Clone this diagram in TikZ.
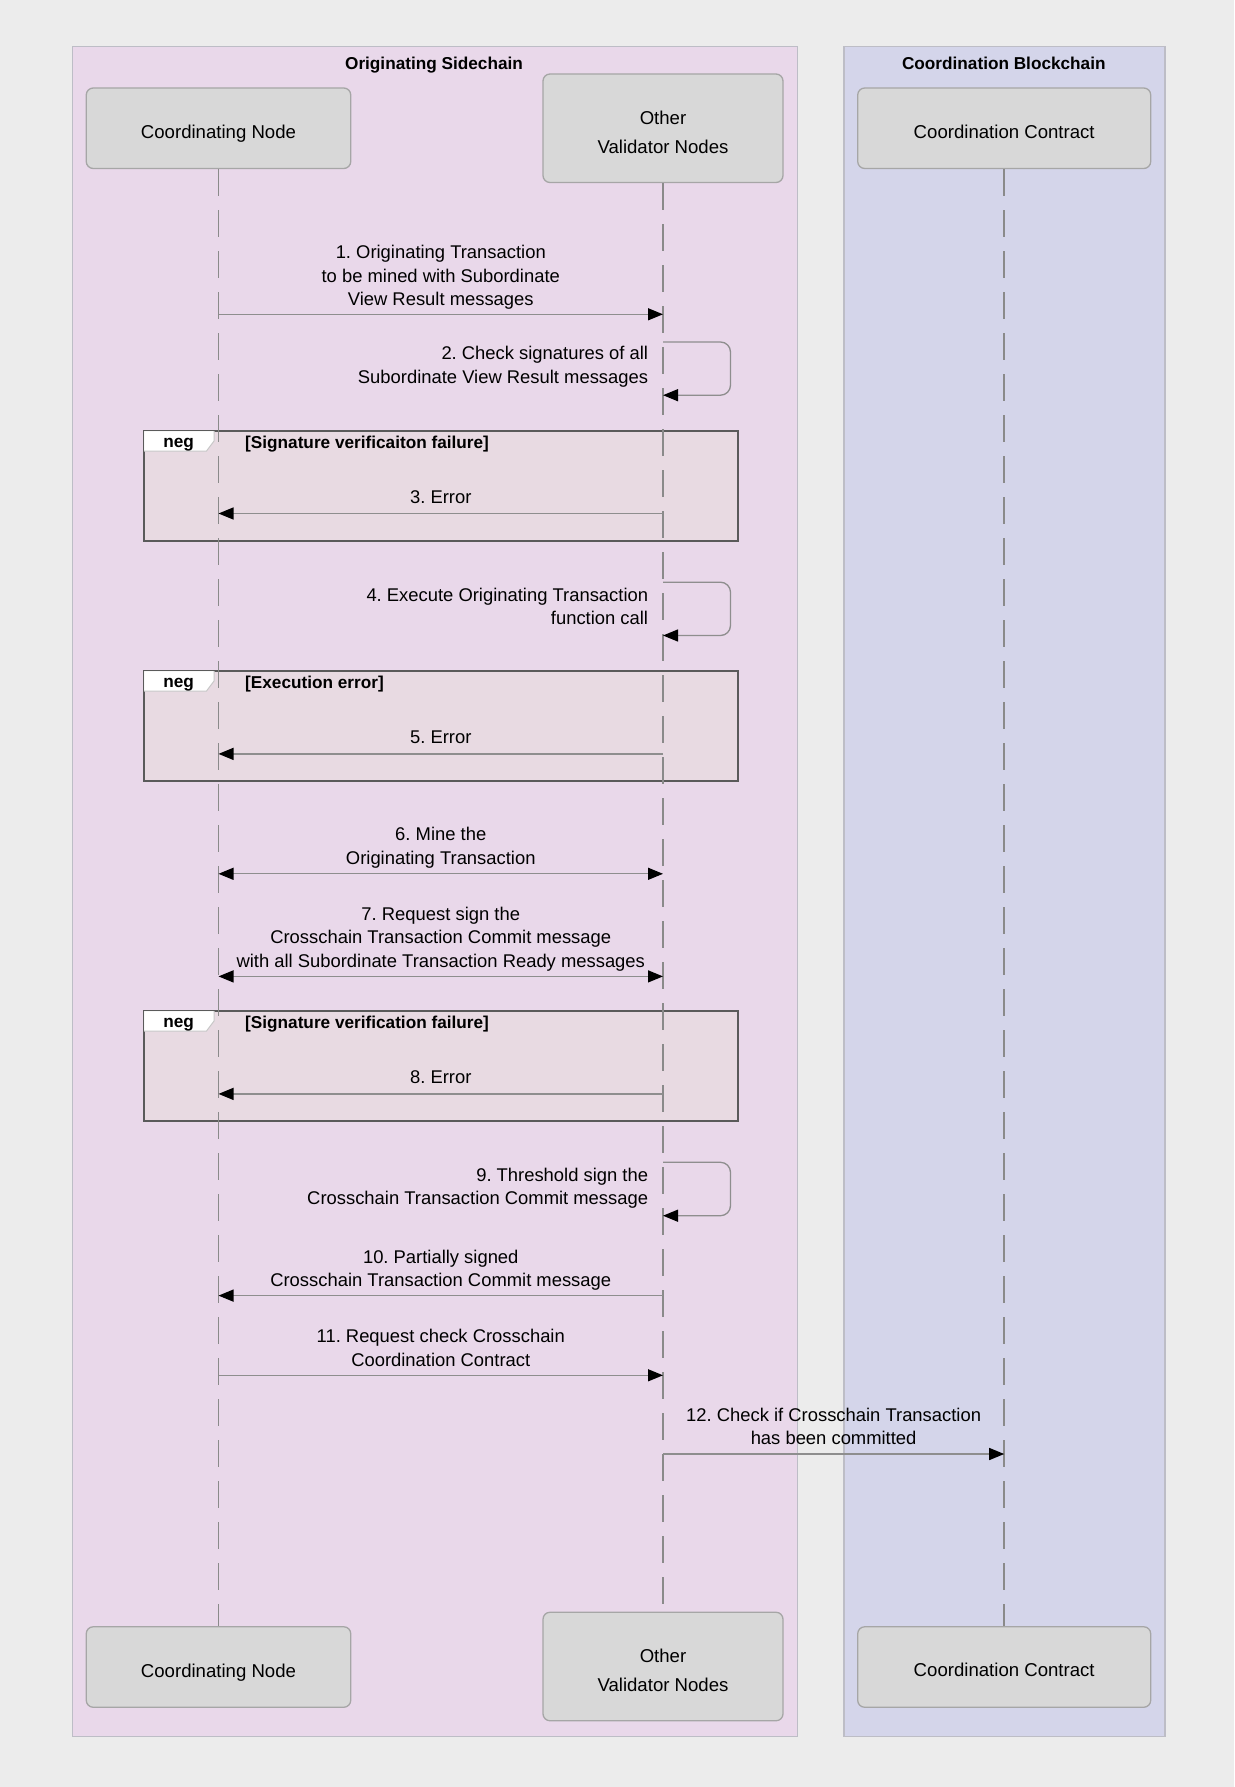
\documentclass[tikz,border=0pt]{standalone}
\usepackage{fontspec}
\setmainfont{Liberation Sans}
\usetikzlibrary{arrows.meta}
\frenchspacing
\definecolor{bgcol}{HTML}{ECECEC}
\definecolor{origfill}{HTML}{E9D8EA}
\definecolor{coordfill}{HTML}{D4D5EA}
\definecolor{framecol}{HTML}{BDBDC6}
\definecolor{boxfill}{HTML}{D8D8D8}
\definecolor{boxline}{HTML}{A6A6A6}
\definecolor{lifecol}{HTML}{8A8A8A}
\definecolor{msgcol}{HTML}{8E8E8E}
\definecolor{negfill}{HTML}{E8DAE2}
\definecolor{negline}{HTML}{5A5A5A}
\definecolor{tabline}{HTML}{C8C8C8}
\begin{document}
\begin{tikzpicture}[x=1pt,y=-1pt,
  laneframe/.style={draw=framecol, line width=1.2pt, anchor=north west, inner sep=0pt},
  lanetitle/.style={font=\fontsize{17.2}{20}\selectfont\bfseries, text=black},
  actor/.style={draw=boxline, fill=boxfill, line width=1.3pt, rounded corners=7pt, inner sep=0pt},
  actortxt/.style={align=center, inner sep=0pt, font=\fontsize{18.6}{28.5}\selectfont},
  life/.style={draw=lifecol, line width=1.6pt, dash pattern=on 27pt off 14pt},
  msg/.style={draw=msgcol, line width=1.3pt, -{Triangle[length=15pt,width=12pt,color=black]}},
  dmsg/.style={draw=msgcol, line width=1.3pt, {Triangle[length=15pt,width=12pt,color=black]}-{Triangle[length=15pt,width=12pt,color=black]}},
  lbl/.style={align=center, inner sep=0pt, font=\fontsize{18.4}{23.5}\selectfont},
  rlbl/.style={align=right, inner sep=0pt, anchor=east, font=\fontsize{18.4}{23.5}\selectfont},
  negframe/.style={draw=negline, fill=negfill, line width=1.2pt, anchor=north west, inner sep=0pt,
    minimum width=593.6pt, minimum height=109.5pt},
  negtab/.style={draw=tabline, fill=white, line width=1pt},
  negtxt/.style={font=\fontsize{17.2}{20}\selectfont\bfseries, inner sep=0pt},
]
\useasboundingbox (0,0) rectangle (1234,1787);
\fill[bgcol] (0,0) rectangle (1234,1787);

% swimlane frames
\node[laneframe, fill=origfill, minimum width=725pt, minimum height=1689.5pt] (osc) at (71.5,46) {};
\node[laneframe, fill=coordfill, minimum width=321pt, minimum height=1689.5pt] (ocb) at (843.3,46) {};
\node[lanetitle] (osct) at (434,65.3) {Originating Sidechain};
\node[lanetitle] (ocbt) at (1003.8,63.3) {Coordination Blockchain};

% neg frames
\node[negframe] (neg1) at (143.6,430.5) {};
\node[negframe] (neg2) at (143.6,670.5) {};
\node[negframe] (neg3) at (143.6,1010.5) {};
\foreach \n/\g in {neg1/{[Signature verificaiton failure]}, neg2/{[Execution error]}, neg3/{[Signature verification failure]}}{
  \filldraw[negtab] (\n.north west) -- ++(70.4,0) -- ++(0,10.5) -- ++(-7.5,10) -- ([yshift=-20.5pt]\n.north west) -- cycle;
  \draw[negline, line width=1.2pt] (\n.north west) rectangle (\n.south east);
  \node[negtxt] at ([shift={(35,13.8)}]\n.north west) {neg};
  \node[negtxt, anchor=west] at ([shift={(101.4,13.8)}]\n.north west) {\g};
}

% actors
\node[actor, minimum width=264.5pt, minimum height=80.5pt] (cn) at (218.5,128.25) {};
\node[actor, minimum width=240pt, minimum height=108.5pt] (ov) at (663,128.25) {};
\node[actor, minimum width=293pt, minimum height=80.5pt] (cc) at (1004.2,128.25) {};
\node[actor, minimum width=264.5pt, minimum height=80.5pt] (cnb) at (218.5,1667) {};
\node[actor, minimum width=240pt, minimum height=108.5pt] (ovb) at (663,1666.5) {};
\node[actor, minimum width=293pt, minimum height=80.5pt] (ccb) at (1004.2,1667) {};
\node[actortxt] (cnt) at ([yshift=-5.3pt]cn.center) {Coordinating Node};
\node[actortxt] (ovt) at ([yshift=-4pt]ov.center) {Other\\Validator Nodes};
\node[actortxt] (cct) at ([yshift=-3.3pt]cc.center) {Coordination Contract};
\node[actortxt] (cnbt) at ([yshift=-5.3pt]cnb.center) {Coordinating Node};
\node[actortxt] (ovbt) at ([yshift=-4pt]ovb.center) {Other\\Validator Nodes};
\node[actortxt] (ccbt) at ([yshift=-3.3pt]ccb.center) {Coordination Contract};

% lifelines
\draw[life] (cn.south) -- (cnb.north);
\draw[life] (ov.south) -- (ovb.north);
\draw[life] (cc.south) -- (ccb.north);

% message rows
\coordinate (y1) at (0,314.3);
\coordinate (y2a) at (0,342);
\coordinate (y2b) at (0,395.2);
\coordinate (y3) at (0,513.5);
\coordinate (y4a) at (0,582.2);
\coordinate (y4b) at (0,635.5);
\coordinate (y5) at (0,753.9);
\coordinate (y6) at (0,873.8);
\coordinate (y7) at (0,976.4);
\coordinate (y8) at (0,1093.9);
\coordinate (y9a) at (0,1162.3);
\coordinate (y9b) at (0,1215.7);
\coordinate (y10) at (0,1295.6);
\coordinate (y11) at (0,1375.3);
\coordinate (y12) at (0,1454);

\draw[msg] (cn |- y1) -- node[lbl, midway, yshift=36.9pt] {1. Originating Transaction\\to be mined with Subordinate\\View Result messages} (ov |- y1);
\draw[msg, rounded corners=10pt] (ov |- y2a) -- ++(67.5,0) -- ++(0,53.2) -- (ov |- y2b);
\node[rlbl] (l2) at (648.3,366.9) {2. Check signatures of all\\Subordinate View Result messages};
\draw[msg] (ov |- y3) -- node[lbl, midway, yshift=16.5pt] {3. Error} (cn |- y3);
\draw[msg, rounded corners=10pt] (ov |- y4a) -- ++(67.5,0) -- ++(0,53.3) -- (ov |- y4b);
\node[rlbl] (l4) at (648.3,606.4) {4. Execute Originating Transaction\\function call};
\draw[msg] (ov |- y5) -- node[lbl, midway, yshift=16.5pt] {5. Error} (cn |- y5);
\draw[dmsg] (cn |- y6) -- node[lbl, midway, yshift=26.3pt] {6. Mine the\\Originating Transaction} (ov |- y6);
\draw[dmsg] (cn |- y7) -- node[lbl, midway, yshift=37.5pt] {7. Request sign the\\Crosschain Transaction Commit message\\with all Subordinate Transaction Ready messages} (ov |- y7);
\draw[msg] (ov |- y8) -- node[lbl, midway, yshift=16.5pt] {8. Error} (cn |- y8);
\draw[msg, rounded corners=10pt] (ov |- y9a) -- ++(67.5,0) -- ++(0,53.4) -- (ov |- y9b);
\node[rlbl] (l9) at (648.3,1188.3) {9. Threshold sign the\\Crosschain Transaction Commit message};
\draw[msg] (ov |- y10) -- node[lbl, midway, yshift=25.6pt] {10. Partially signed\\Crosschain Transaction Commit message} (cn |- y10);
\draw[msg] (cn |- y11) -- node[lbl, midway, yshift=27.2pt] {11. Request check Crosschain\\Coordination Contract} (ov |- y11);
\draw[msg] (ov |- y12) -- node[lbl, midway, yshift=27.5pt] {12. Check if Crosschain Transaction\\has been committed} (cc |- y12);
\end{tikzpicture}
\end{document}
